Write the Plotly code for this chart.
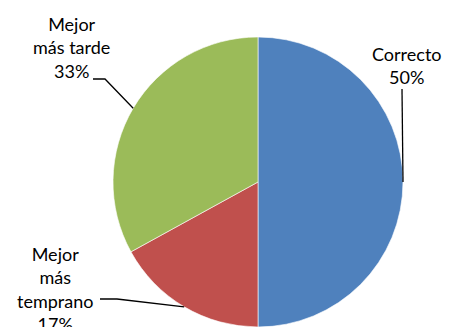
import math
import plotly.graph_objects as go

# Response categories and their shares (%)
labels = ["Correcto", "Mejor más temprano", "Mejor más tarde"]
label_text = ["Correcto<br>50%", "Mejor<br>más<br>temprano<br>17%", "Mejor<br>más tarde<br>33%"]
values = [50, 17, 33]
colors = ["#4F81BD", "#C0504D", "#9BBB59"]

W, H = 453, 327
CX, CY, R = 258, 182, 145   # pie centre and radius in pixels (from top-left)

fig = go.Figure(go.Pie(
    labels=labels,
    values=values,
    sort=False,
    direction="clockwise",
    rotation=0,
    marker=dict(colors=colors, line=dict(color="white", width=0.6)),
    textinfo="none",
    hoverinfo="label+percent",
    showlegend=False,
    domain=dict(x=[(CX - R) / W, (CX + R) / W], y=[0, (2 * R) / H]),
))


def px(x, y):
    return x / W, 1 - y / H


# Mid-angle point of every slice on the rim (clockwise from 12 o'clock)
total = sum(values)
rim = []
acc = 0
for v in values:
    mid = (acc + v / 2) / total * 2 * math.pi
    rim.append((CX + R * math.sin(mid), CY - R * math.cos(mid)))
    acc += v

# Label anchor (text centre) and leader elbow/end for each slice
label_pos = [(407, 65), (55, 289), (71, 47)]
leaders = [
    [(402, 89)],
    [(100, 299), (117, 299)],
    [(93, 79), (105, 79)],
]

shapes = []
for pts, end in zip(leaders, rim):
    path_pts = pts + [end]
    d = "M " + " L ".join(f"{px(x, y)[0]},{px(x, y)[1]}" for x, y in path_pts)
    shapes.append(dict(type="path", xref="paper", yref="paper", path=d,
                       line=dict(color="black", width=1.3)))

annotations = []
for txt, (x, y) in zip(label_text, label_pos):
    ax, ay = px(x, y)
    annotations.append(dict(text=txt, x=ax, y=ay, xref="paper", yref="paper",
                            showarrow=False, xanchor="center", yanchor="middle",
                            align="center",
                            font=dict(family="Lato", size=18, color="black")))

fig.update_layout(
    width=W, height=H,
    margin=dict(l=0, r=0, t=0, b=0),
    paper_bgcolor="white",
    plot_bgcolor="white",
    shapes=shapes,
    annotations=annotations,
)

fig.write_html("out.html")
